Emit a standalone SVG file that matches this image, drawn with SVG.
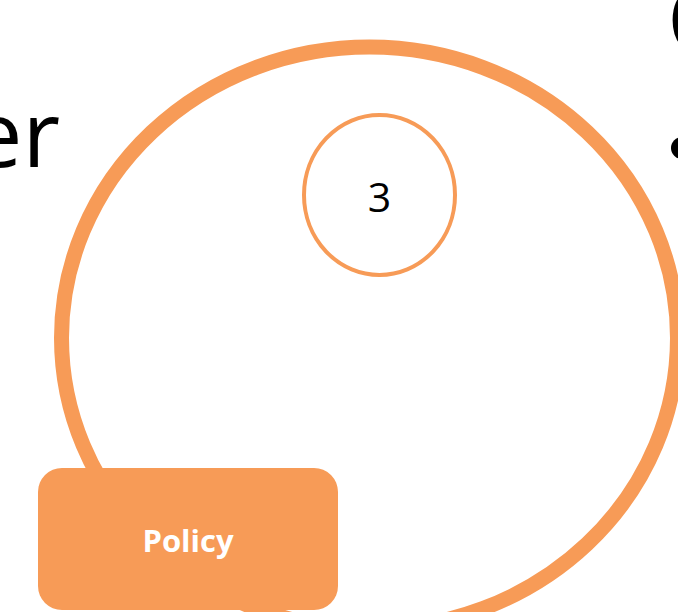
<svg xmlns="http://www.w3.org/2000/svg" width="678" height="612" viewBox="0 0 678 612">
<style>
.ring{fill:none;stroke:#F79B57}
.big{font-family:"Open Sans","Liberation Sans",sans-serif;fill:#000}
</style>
<rect width="678" height="612" fill="#fff"/>
<text class="big" x="60" y="167" font-size="92" text-anchor="end">er</text>
<text class="big" x="667" y="53" font-size="92">O</text>
<circle cx="682" cy="148" r="11" fill="#000"/>
<g id="cycle">
<ellipse class="ring" cx="369.5" cy="338" rx="308" ry="291" stroke-width="15"/>
</g>
<g id="node3">
<ellipse class="ring" cx="379.5" cy="195" rx="75.5" ry="80" stroke-width="4"/>
<text x="379.5" y="212" font-family="Open Sans, Liberation Sans, sans-serif" font-size="41" text-anchor="middle" fill="#000">3</text>
</g>
<g id="policy">
<rect x="38" y="468" width="300" height="142" rx="24" fill="#F79B57"/>
<text x="188" y="552" font-family="Open Sans, Liberation Sans, sans-serif" font-weight="bold" font-size="31" text-anchor="middle" fill="#fff">Policy</text>
</g>
<g id="connectors"></g>
</svg>
